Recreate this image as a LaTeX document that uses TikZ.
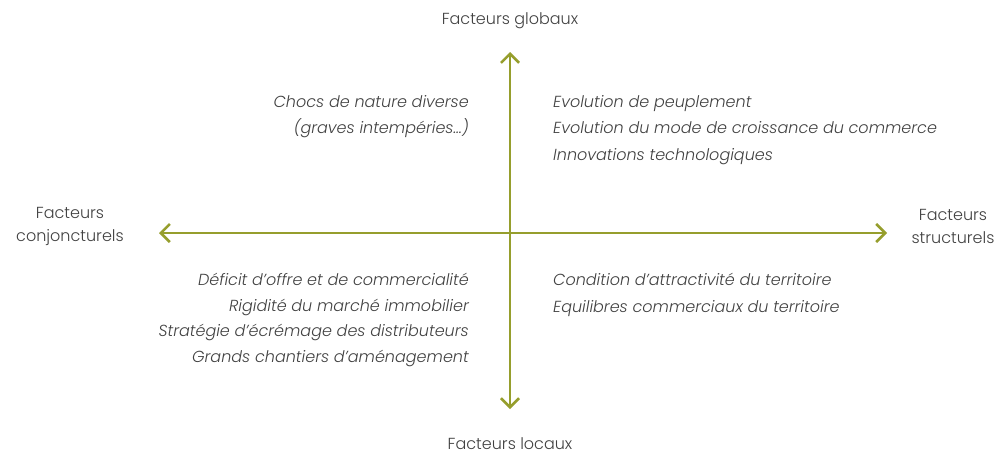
\documentclass[tikz,border=0pt]{standalone}
\usepackage{fontspec}
\setmainfont{Poppins}[UprightFont=* Light, ItalicFont=* Light Italic]
\usetikzlibrary{arrows.meta}
\definecolor{axis}{RGB}{150,158,45}
\definecolor{ink}{RGB}{65,65,65}
\begin{document}
\begin{tikzpicture}[x=1pt,y=-1pt,
  axisline/.style={draw=axis,line width=2.6pt,{Straight Barb[length=9pt,width=18pt,line width=2.6pt]}-{Straight Barb[length=9pt,width=18pt,line width=2.6pt]}},
  label/.style={text=ink,font=\fontsize{16}{23}\selectfont,inner sep=0pt,align=center},
  factor/.style={text=ink,font=\fontsize{16}{26.5}\selectfont\itshape,inner sep=0pt}]
\useasboundingbox (0,0) rectangle (1003,456);
% axis end points
\coordinate (top) at (510,52);
\coordinate (bottom) at (510,409);
\coordinate (left) at (159,233);
\coordinate (right) at (887,233);
\draw[axisline] (bottom) -- (top);
\draw[axisline] (left) -- (right);
% axis labels
\node[label] (glob) at (510,21) {Facteurs globaux};
\node[label] (loc) at (510,444) {Facteurs locaux};
\node[label] (conj) at (70,226) {Facteurs\\conjoncturels};
\node[label] (struct) at (953,226) {Facteurs\\structurels};
% quadrant contents
\node[factor,anchor=north east,align=right] (q1) at (469,95)
  {Chocs de nature diverse\\(graves intempéries…)};
\node[factor,anchor=north west,align=left] (q2) at (553,95)
  {Evolution de peuplement\\Evolution du mode de croissance du commerce\\Innovations technologiques};
\node[factor,anchor=north east,align=right,font=\fontsize{16}{25.5}\selectfont\itshape] (q3) at (469,273)
  {Déficit d’offre et de commercialité\\Rigidité du marché immobilier\\Stratégie d’écrémage des distributeurs\\Grands chantiers d’aménagement};
\node[factor,anchor=north west,align=left] (q4) at (553,273)
  {Condition d’attractivité du territoire\\Equilibres commerciaux du territoire};
\end{tikzpicture}
\end{document}
